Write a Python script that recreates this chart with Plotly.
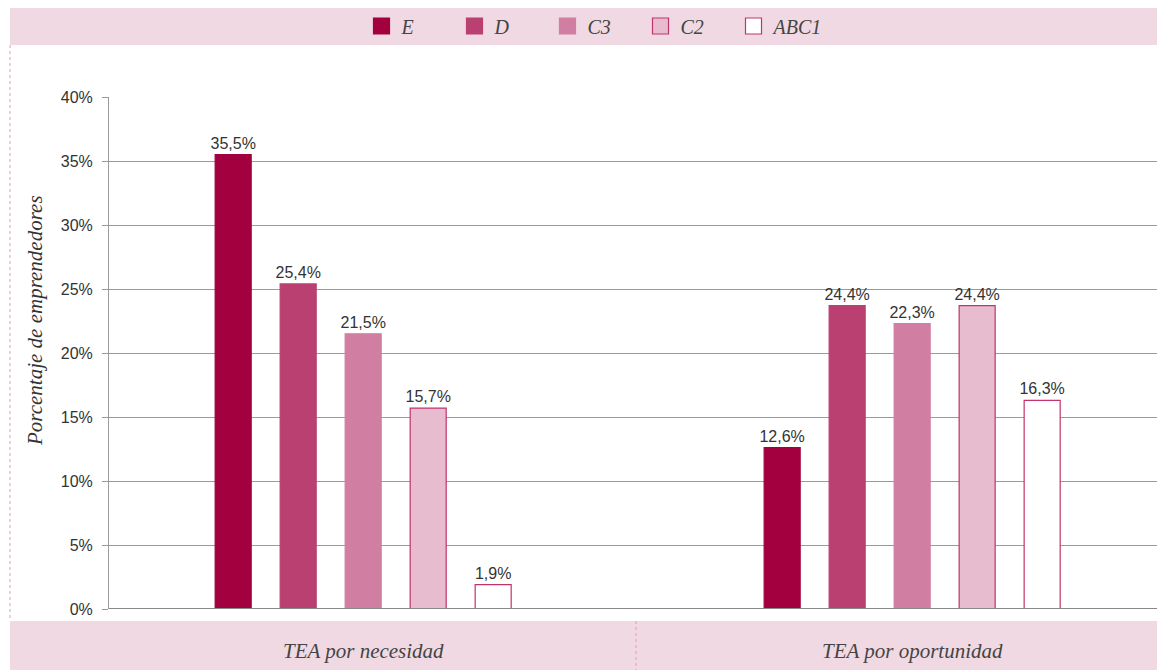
import plotly.graph_objects as go

categories = ["TEA por necesidad", "TEA por oportunidad"]
series = ["E", "D", "C3", "C2", "ABC1"]
# bar heights as drawn, and their printed labels
values = {
    "E": [35.5, 12.6],
    "D": [25.4, 23.7],
    "C3": [21.5, 22.3],
    "C2": [15.7, 23.7],
    "ABC1": [1.9, 16.3],
}
labels = {
    "E": ["35,5%", "12,6%"],
    "D": ["25,4%", "24,4%"],
    "C3": ["21,5%", "22,3%"],
    "C2": ["15,7%", "24,4%"],
    "ABC1": ["1,9%", "16,3%"],
}
yticks = [0, 5, 10, 15, 20, 25, 30, 35, 40]
ytick_text = ["0%", "5%", "10%", "15%", "20%", "25%", "30%", "35%", "40%"]

fills = {"E": "#a3003f", "D": "#b94070", "C3": "#d17ea3", "C2": "#e8bccf", "ABC1": "#ffffff"}
borders = {"E": "#a3003f", "D": "#b94070", "C3": "#d17ea3", "C2": "#c2336b", "ABC1": "#c2336b"}
band = "#f0d9e2"
serif = "Liberation Serif"
sans = "Liberation Sans"

fig = go.Figure()
for s in series:
    fig.add_trace(go.Bar(
        name=s, x=[0, 1], y=values[s], text=labels[s],
        textposition="outside", constraintext="none",
        textfont=dict(family=sans, size=16, color="#333"),
        marker=dict(color=fills[s], line=dict(color=borders[s], width=1.2)),
        cliponaxis=False, showlegend=False,
    ))
# legend entries with larger swatches
for s in series:
    fig.add_trace(go.Scatter(
        name="<i>" + s + "</i>", x=[None], y=[None], mode="markers",
        marker=dict(symbol="square", size=16, color=fills[s],
                    line=dict(color=borders[s], width=1.2)),
        showlegend=True,
    ))

L, T, W, H = 109, 97, 1048, 512
def px(x):
    return (x - L) / W
def py(y):
    return (T + H - y) / H

shapes = [
    dict(type="rect", xref="paper", yref="paper", x0=px(10), x1=px(1160), y0=py(8), y1=py(45),
         fillcolor=band, line=dict(width=0), layer="below"),
    dict(type="rect", xref="paper", yref="paper", x0=px(10), x1=px(1160), y0=py(621), y1=py(672),
         fillcolor=band, line=dict(width=0), layer="below"),
    dict(type="line", xref="paper", yref="paper", x0=px(10), x1=px(10), y0=py(45), y1=py(621),
         line=dict(color="#e59ab8", width=1, dash="dot")),
    dict(type="line", xref="paper", yref="paper", x0=px(636), x1=px(636), y0=py(621), y1=py(672),
         line=dict(color="#e59ab8", width=1, dash="dot")),
]

annotations = [
    dict(text="<i>" + c + "</i>", x=i, xref="x", y=py(651), yref="paper", showarrow=False,
         font=dict(family=serif, size=21, color="#444"), xanchor="center", yanchor="middle")
    for i, c in enumerate(categories)
]
annotations.append(dict(text="<i>Porcentaje de emprendedores</i>", x=px(35), y=py(321),
                        xref="paper", yref="paper", showarrow=False, textangle=-90,
                        font=dict(family=serif, size=21, color="#333"),
                        xanchor="center", yanchor="middle"))

fig.update_layout(
    width=1157, height=670,
    margin=dict(l=L, r=0, t=T, b=670 - T - H),
    plot_bgcolor="white", paper_bgcolor="white",
    barmode="group", bargap=0.408, bargroupgap=0.446,
    showlegend=True,
    legend=dict(orientation="h", x=px(594), xanchor="center", y=py(26), yanchor="middle",
                font=dict(family=serif, size=20, color="#444"),
                entrywidth=48, entrywidthmode="pixels", bgcolor="rgba(0,0,0,0)"),
    xaxis=dict(range=[-0.463, 1.446], showticklabels=False, showgrid=False, zeroline=False,
               showline=False, tickvals=[0, 1]),
    yaxis=dict(range=[0, 40], tickvals=yticks, ticktext=ytick_text, showgrid=True,
               gridcolor="#9a9a9a", gridwidth=1, zeroline=False, showline=True,
               linecolor="#9a9a9a", linewidth=1, ticks="outside", ticklen=6,
               tickcolor="#9a9a9a", ticklabelstandoff=6,
               tickfont=dict(family=sans, size=16, color="#333")),
    shapes=shapes, annotations=annotations,
)
fig.add_shape(type="line", xref="paper", yref="y", x0=0, x1=1, y0=0, y1=0,
              line=dict(color="#888", width=2))

fig.write_html("out.html", config={"displayModeBar": False},
               post_script="document.body.style.margin='0';document.body.style.overflow='hidden';")
